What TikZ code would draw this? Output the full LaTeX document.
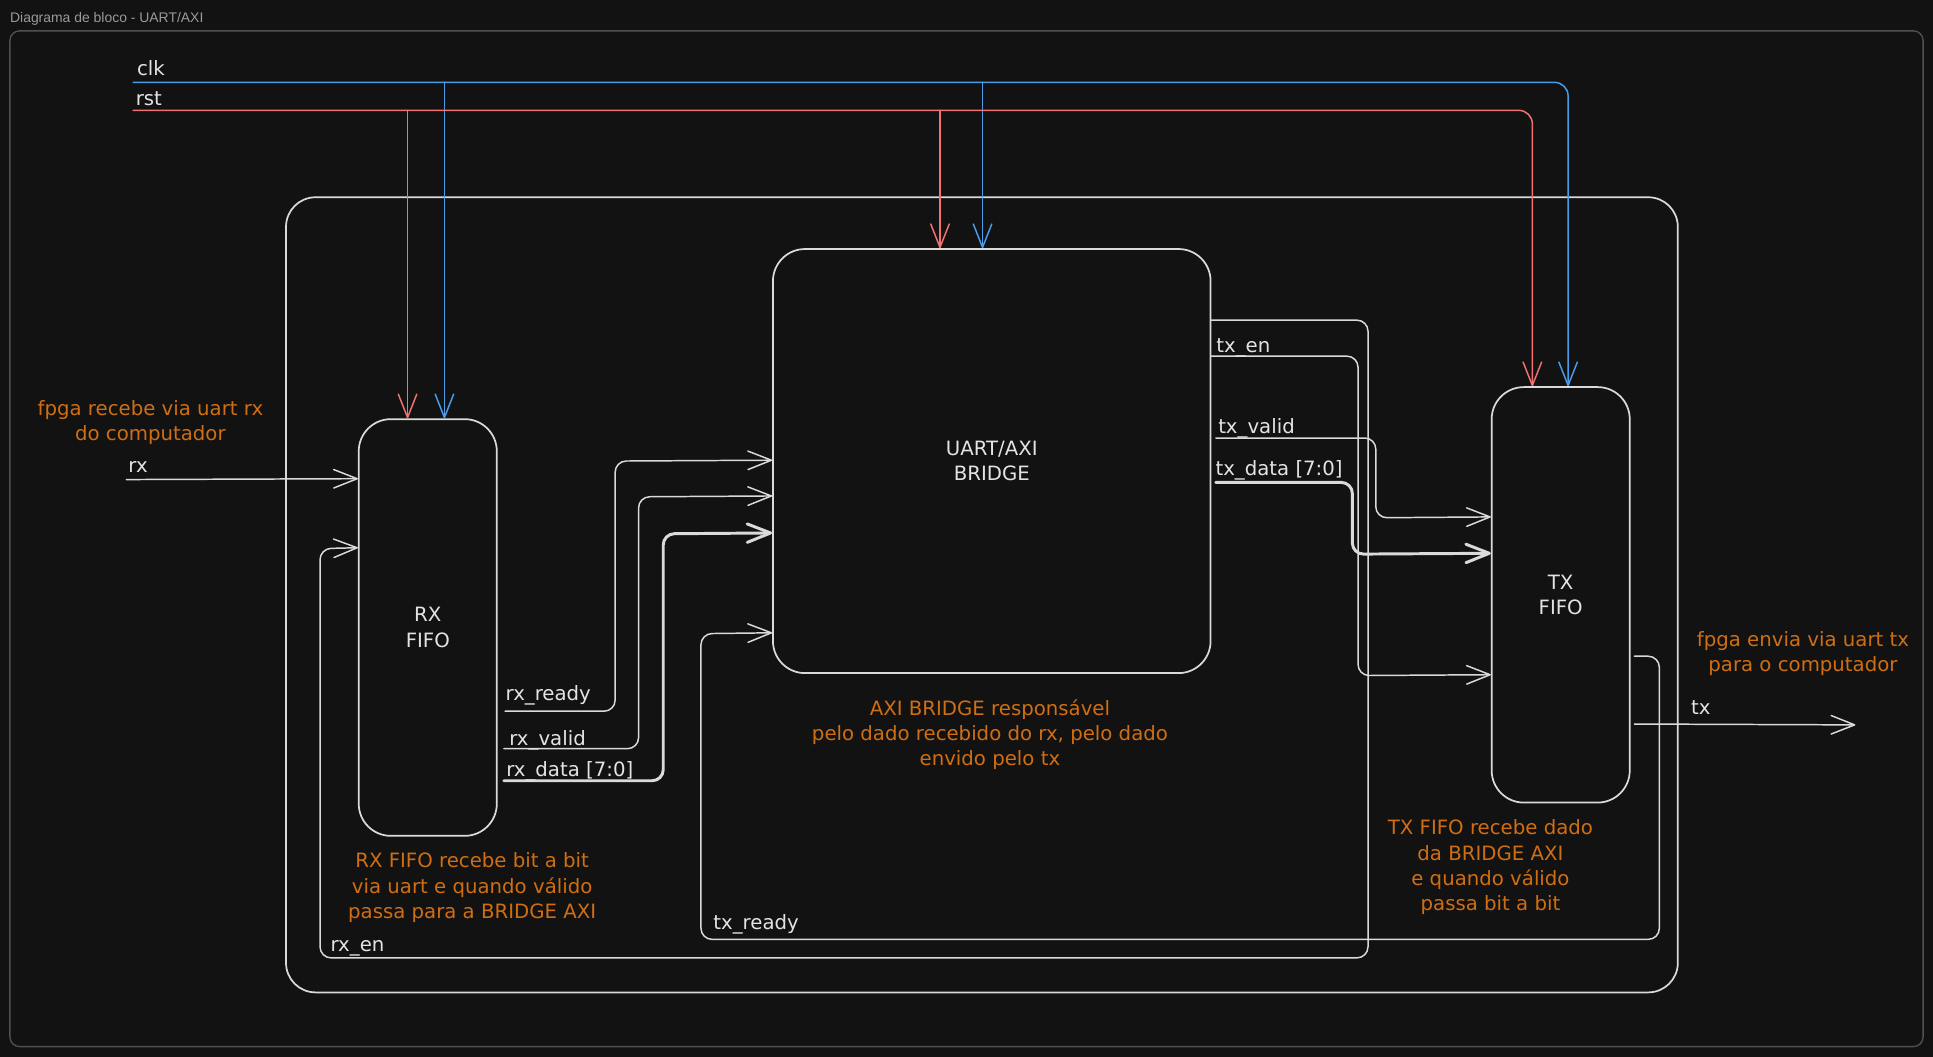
\documentclass[tikz,border=0pt]{standalone}
\usepackage{fontspec}
\setmainfont{DejaVu Sans}
\newfontfamily\titlefont{Liberation Sans}
\usetikzlibrary{arrows.meta,calc}
\definecolor{bgc}{HTML}{121212}
\definecolor{framegray}{HTML}{505050}
\definecolor{titlegray}{HTML}{9A9A9A}
\definecolor{wl}{HTML}{DADADA}
\definecolor{wtext}{HTML}{E3E3E3}
\definecolor{clkblue}{HTML}{4A9BE8}
\definecolor{rstred}{HTML}{F27171}
\definecolor{notecol}{HTML}{CF6E12}
\begin{document}
\begin{tikzpicture}[x=1pt,y=-1pt,
  txt/.style={font=\fontsize{16}{20.5}\selectfont},
  box/.style={draw=wl, line width=1.4pt, rounded corners=26pt, inner sep=0pt, text=wtext, align=center, txt},
  framebox/.style={draw=wl, line width=1.4pt, rounded corners=24pt, inner sep=0pt},
  outerbox/.style={draw=framegray, line width=1.1pt, rounded corners=8pt, inner sep=0pt},
  arr/.style={-{Straight Barb[length=19pt,width=15pt,round]}},
  wline/.style={draw=wl, line width=1.2pt, line cap=round, rounded corners=9pt},
  busline/.style={draw=wl, line width=2.4pt, line cap=round, rounded corners=9pt},
  clkl/.style={draw=clkblue, line width=1.2pt, line cap=round, rounded corners=11pt},
  rstl/.style={draw=rstred, line width=1.2pt, line cap=round, rounded corners=11pt},
  lbl/.style={txt, text=wtext, inner sep=0pt, anchor=base west},
  note/.style={txt, text=notecol, align=center, inner sep=0pt}
]
% background / bounding box
\fill[bgc] (0,0) rectangle (1568,857.4);

% frames
\node[outerbox, minimum width=1552pt, minimum height=824pt] (outer) at (784,437) {};
\node[anchor=west, inner sep=0pt, text=titlegray, font=\titlefont\fontsize{11.3}{13}\selectfont] (title) at (8,15) {Diagrama de bloco - UART/AXI};
\node[framebox, minimum width=1129pt, minimum height=645pt] (inner) at (796.5,482.5) {};

% blocks
\node[box, minimum width=355pt, minimum height=344pt] (bridge) at (804.5,374) {UART/AXI\\BRIDGE};
\node[box, minimum width=112pt, minimum height=338pt] (rxf) at (347,509) {RX\\FIFO};
\node[box, minimum width=112pt, minimum height=337pt] (txf) at (1266,482.5) {TX\\FIFO};

% clk / rst
\coordinate (clkS) at (108,66.8);
\coordinate (rstS) at (108,89.5);
\coordinate (rxfrst) at ($(rxf.north)+(-16.4,0)$);
\coordinate (rxfclk) at ($(rxf.north)+(13.5,0)$);
\coordinate (brrst) at ($(bridge.north)+(-42,0)$);
\coordinate (brclk) at ($(bridge.north)+(-7.5,0)$);
\coordinate (txfrst) at ($(txf.north)+(-23,0)$);
\coordinate (txfclk) at ($(txf.north)+(6,0)$);

\draw[clkl,arr] (clkS) -| (txfclk);
\draw[clkl,arr] (clkS -| rxfclk) -- (rxfclk);
\draw[clkl,arr] (clkS -| brclk) -- (brclk);
\draw[rstl,arr] (rstS) -| (txfrst);
\draw[rstl,arr] (rstS -| rxfrst) -- (rxfrst);
\draw[rstl,arr] (rstS -| brrst) -- (brrst);
\node[lbl] (clklbl) at (111,61.6) {clk};
\node[lbl] (rstlbl) at (110,85.2) {rst};

% rx input
\coordinate (rxS) at (102.5,389);
\coordinate (rxE) at ($(rxf.north west)+(0,49)$);
\draw[wline,arr] (rxS) -- (rxE);
\node[lbl] (rxlbl) at (104,383.4) {rx};

% rx_en : bridge -> RX FIFO
\coordinate (rxenS) at ($(bridge.north east)+(0,58.4)$);
\coordinate (rxenE) at ($(rxf.north west)+(0,105)$);
\draw[wline,arr] (rxenS) -| (1109.7,777) -| (259.6,445) -- (rxenE);
\node[lbl] (rxenlbl) at (268,772) {rx\_en};

% RX FIFO -> bridge
\coordinate (rxrS) at ($(rxf.north east)+(6,237.6)$);
\coordinate (rxrE) at ($(bridge.north west)+(0,172)$);
\draw[wline,arr] (rxrS) -| (499,374) -- (rxrE);
\node[lbl] (rxrlbl) at (410,568) {rx\_ready};

\coordinate (rxvS) at ($(rxf.north east)+(5,268)$);
\coordinate (rxvE) at ($(bridge.north west)+(0,201)$);
\draw[wline,arr] (rxvS) -| (518,403) -- (rxvE);
\node[lbl] (rxvlbl) at (413,604.5) {rx\_valid};

\coordinate (rxdS) at ($(rxf.north east)+(5,294)$);
\coordinate (rxdE) at ($(bridge.north west)+(0,231)$);
\draw[busline,arr] (rxdS) -| (538,433) -- (rxdE);
\node[lbl] (rxdlbl) at (410.5,630) {rx\_data [7:0]};

% bridge -> TX FIFO
\coordinate (txenS) at ($(bridge.north east)+(0,87.6)$);
\coordinate (txenE) at ($(txf.north west)+(0,234)$);
\draw[wline,arr] (txenS) -| (1101.6,548) -- (txenE);
\node[lbl] (txenlbl) at (986.5,285.6) {tx\_en};

\coordinate (txvS) at ($(bridge.north east)+(3.5,154)$);
\coordinate (txvE) at ($(txf.north west)+(0,106)$);
\draw[wline,arr] (txvS) -| (1116,420) -- (txvE);
\node[lbl] (txvlbl) at (988,351.5) {tx\_valid};

\coordinate (txdS) at ($(bridge.north east)+(3.5,190)$);
\coordinate (txdE) at ($(txf.north west)+(0,135.5)$);
\draw[busline,arr] (txdS) -| (1097,449.5) -- (txdE);
\node[lbl] (txdlbl) at (985.8,385.7) {tx\_data [7:0]};

% tx_ready : TX FIFO -> bridge
\coordinate (txrS) at ($(txf.north east)+(3,219)$);
\coordinate (txrE) at ($(bridge.north west)+(0,312)$);
\draw[wline,arr] (txrS) -| (1346,762) -| (568.6,514) -- (txrE);
\node[lbl] (txrlbl) at (578.5,753.7) {tx\_ready};

% tx output
\coordinate (txoS) at ($(txf.north east)+(3,274)$);
\coordinate (txoE) at (1505,588);
\draw[wline,arr] (txoS) -- (txoE);
\node[lbl] (txolbl) at (1371.5,579.7) {tx};

% notes
\node[note] (n1) at (122,343) {fpga recebe via uart rx\\do computador};
\node[note] (n2) at (383,720) {RX FIFO recebe bit a bit\\via uart e quando válido\\passa para a BRIDGE AXI};
\node[note] (n3) at (803,596) {AXI BRIDGE responsável\\pelo dado recebido do rx, pelo dado\\envido pelo tx};
\node[note] (n4) at (1209,703.5) {TX FIFO recebe dado\\da BRIDGE AXI\\e quando válido\\passa bit a bit};
\node[note] (n5) at (1462.5,530) {fpga envia via uart tx\\para o computador};
\end{tikzpicture}
\end{document}
